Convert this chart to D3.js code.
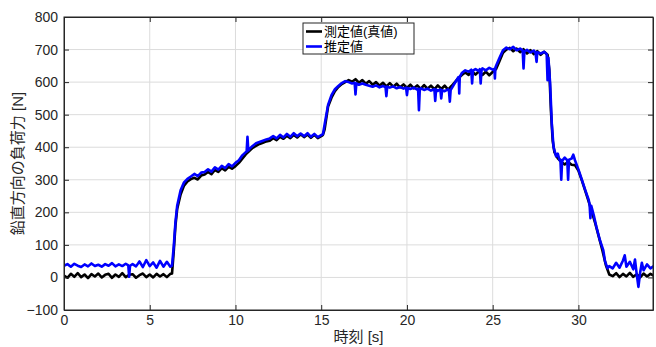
<!DOCTYPE html>
<html>
<head>
  <meta charset="utf-8">
  <title>鉛直方向の負荷力</title>
  <style>
    body { margin: 0; background: #fff; }
    .axis text { font-family: "Liberation Sans", "Noto Sans CJK JP", sans-serif; font-size: 14px; fill: #262626; }
    .axis path, .axis line { stroke: #262626; }
    .grid line { stroke: #dcdcdc; stroke-width: 1; }
  </style>
</head>
<body>
  <div id="plot"></div>

  <script src="https://cdn.jsdelivr.net/npm/d3@7/dist/d3.min.js"></script>
  <script>
    // 時刻 [s], 力 [N]
    const measured = [
      [0,6],[0.2,-1],[0.4,11],[0.6,2],[0.8,13],[1,1],[1.2,9],[1.4,-2],[1.6,10],[1.8,3],
      [2,12],[2.2,0],[2.4,8],[2.6,11],[2.8,-1],[3,9],[3.2,2],[3.4,13],[3.6,1],[3.8,8],
      [4,10],[4.2,-1],[4.4,7],[4.6,12],[4.8,1],[5,9],[5.2,0],[5.4,11],[5.6,3],[5.8,10],
      [6,1],[6.2,11],[6.3,12],[6.4,80],[6.5,160],[6.6,210],[6.8,255],[7,282],[7.2,295],[7.4,302],[7.6,306],[7.8,301],
      [8,313],[8.2,316],[8.4,324],[8.6,317],[8.8,330],[9,324],[9.2,336],[9.4,329],[9.6,340],[9.8,334],
      [10,342],[10.2,352],[10.4,365],[10.6,378],[10.8,388],[11,398],[11.2,404],[11.4,410],[11.6,414],[11.8,418],
      [12,420],[12.2,428],[12.4,422],[12.6,432],[12.8,426],[13,435],[13.2,428],[13.4,438],[13.6,430],[13.8,440],
      [14,431],[14.2,439],[14.4,429],[14.6,438],[14.8,428],[15,434],[15.1,438],[15.2,455],[15.4,525],[15.6,552],[15.8,572],
      [16,585],[16.2,594],[16.4,600],[16.6,606],[16.8,601],[17,609],[17.2,598],[17.4,606],[17.6,595],[17.8,603],
      [18,592],[18.2,600],[18.4,589],[18.6,598],[18.8,587],[19,597],[19.2,586],[19.4,595],[19.6,584],[19.8,593],
      [20,582],[20.2,592],[20.4,581],[20.6,590],[20.8,579],[21,591],[21.2,580],[21.4,589],[21.6,578],[21.8,590],
      [22,579],[22.2,589],[22.4,577],[22.6,588],[22.8,600],[23,612],[23.2,622],[23.4,630],[23.6,622],[23.8,633],
      [24,623],[24.2,634],[24.4,622],[24.6,632],[24.8,621],[25,631],[25.2,640],[25.4,665],[25.6,690],[25.8,700],
      [26,705],[26.2,695],[26.4,703],[26.6,692],[26.8,701],[27,688],[27.2,698],[27.4,686],[27.6,695],[27.8,684],
      [28,693],[28.2,684],[28.3,640],[28.4,510],[28.5,420],[28.6,385],[28.8,366],[29,355],[29.2,347],[29.4,355],[29.6,346],[29.8,345],
      [30,328],[30.2,298],[30.4,266],[30.6,233],[30.8,198],[31,163],[31.2,123],[31.4,83],[31.6,38],[31.8,9],
      [32,4],[32.2,13],[32.4,1],[32.6,11],[32.8,3],[33,14],[33.2,2],[33.4,10],[33.6,0],[33.8,12],[34,3],[34.2,11],[34.4,5]
    ];

    const estimated = [
      [0,36],[0.2,41],[0.4,33],[0.6,42],[0.8,36],[1,32],[1.2,40],[1.4,34],[1.6,43],[1.8,35],
      [2,39],[2.2,33],[2.4,41],[2.6,36],[2.8,44],[3,34],[3.2,40],[3.4,35],[3.6,42],[3.75,37],[3.8,2],[3.85,36],
      [4,41],[4.2,34],[4.4,49],[4.6,32],[4.8,53],[5,35],[5.2,46],[5.4,30],[5.6,51],[5.8,33],[6,48],[6.2,33],[6.3,36],
      [6.4,95],[6.5,170],[6.6,220],[6.8,268],[7,292],[7.2,303],[7.4,310],[7.6,318],[7.8,311],
      [8,322],[8.2,324],[8.4,332],[8.6,325],[8.8,338],[9,331],[9.2,343],[9.4,336],[9.6,348],[9.8,341],
      [10,352],[10.2,360],[10.4,375],[10.6,385],[10.65,386],[10.7,432],[10.75,390],[10.8,394],[11,404],[11.2,412],[11.4,416],[11.6,420],[11.8,424],
      [12,427],[12.2,434],[12.4,427],[12.6,438],[12.8,430],[13,441],[13.2,432],[13.4,443],[13.6,434],[13.8,442],
      [14,434],[14.2,443],[14.4,432],[14.6,441],[14.8,431],[15,437],[15.1,440],[15.2,470],[15.4,530],[15.6,560],[15.8,578],
      [16,588],[16.2,597],[16.4,603],[16.6,600],[16.8,596],[16.95,598],[17,562],[17.05,596],[17.2,592],[17.4,596],[17.6,592],[17.8,589],
      [18,586],[18.2,590],[18.4,584],[18.6,588],[18.75,585],[18.8,557],[18.85,586],[19,583],[19.2,587],[19.4,581],[19.6,585],[19.8,580],
      [19.95,583],[20,560],[20.05,582],[20.2,579],[20.4,583],[20.6,577],[20.65,580],[20.7,514],[20.75,578],[20.8,581],[21,576],[21.2,580],[21.4,574],
      [21.6,578],[21.65,542],[21.7,577],[21.8,573],[21.95,578],[22,550],[22.05,575],[22.2,572],[22.4,578],[22.45,574],[22.5,540],[22.55,576],[22.6,580],
      [22.8,598],[23,615],[23.02,612],[23.05,565],[23.08,616],[23.2,628],[23.4,636],[23.6,632],[23.75,638],[23.8,596],[23.85,635],
      [24,640],[24.2,634],[24.25,640],[24.3,596],[24.35,636],[24.4,642],[24.6,636],[24.8,644],[25,638],[25.1,641],[25.13,611],[25.16,645],
      [25.2,650],[25.4,675],[25.6,698],[25.8,706],
      [26,701],[26.2,708],[26.4,698],[26.6,703],[26.75,697],[26.8,642],[26.85,694],[27,699],[27.2,691],[27.4,697],[27.5,689],[27.56,662],[27.6,692],[27.8,688],
      [28,693],[28.15,686],[28.2,606],[28.25,675],[28.35,596],[28.45,470],[28.55,400],[28.7,372],[28.8,380],[28.9,360],[28.95,362],[29,300],[29.05,358],
      [29.2,368],[29.35,360],[29.4,300],[29.45,362],[29.6,365],[29.7,377],[29.8,360],
      [30,332],[30.2,300],[30.4,268],[30.6,238],[30.65,225],[30.7,182],[30.75,220],[30.9,190],[31.05,155],[31.25,115],[31.45,84],[31.55,50],[31.7,28],[31.8,35],
      [32,28],[32.2,45],[32.4,30],[32.6,52],[32.7,68],[32.8,33],[33,48],[33.2,25],[33.3,55],[33.4,10],[33.5,-29],[33.6,15],[33.7,45],[33.8,22],[34,40],[34.2,28],[34.4,35]
    ];

    const xTicks = [0, 5, 10, 15, 20, 25, 30];
    const yTicks = [-100, 0, 100, 200, 300, 400, 500, 600, 700, 800];
    const xDomain = [0, 34.35];
    const yDomain = [-100, 800];
    const seriesNames = ['測定値(真値)', '推定値'];
    const seriesColors = ['#000000', '#0000ff'];

    const svgWidth = 656, svgHeight = 347;
    const margin = {top: 17, right: 3, bottom: 37, left: 64};
    const width = svgWidth - margin.left - margin.right;
    const height = svgHeight - margin.top - margin.bottom;
    const labelFont = '"Liberation Sans", "Noto Sans CJK JP", sans-serif';

    const svg = d3.select('#plot').append('svg')
      .attr('width', svgWidth)
      .attr('height', svgHeight);

    const g = svg.append('g')
      .attr('transform', `translate(${margin.left},${margin.top})`);

    const x = d3.scaleLinear().domain(xDomain).range([0, width]);
    const y = d3.scaleLinear().domain(yDomain).range([height, 0]);

    // grid
    g.append('g').attr('class', 'grid')
      .selectAll('line.v').data(xTicks.filter(d => d > 0)).enter().append('line')
        .attr('x1', d => x(d)).attr('x2', d => x(d))
        .attr('y1', 0).attr('y2', height);
    g.append('g').attr('class', 'grid')
      .selectAll('line.h').data(yTicks.filter(d => d > yDomain[0] && d < yDomain[1])).enter().append('line')
        .attr('x1', 0).attr('x2', width)
        .attr('y1', d => y(d)).attr('y2', d => y(d));

    // data
    g.append('clipPath').attr('id', 'clip')
      .append('rect').attr('width', width).attr('height', height);

    const line = d3.line().x(d => x(d[0])).y(d => y(d[1]));
    const plotArea = g.append('g').attr('clip-path', 'url(#clip)');
    [measured, estimated].forEach((s, i) => {
      plotArea.append('path')
        .datum(s)
        .attr('d', line)
        .attr('fill', 'none')
        .attr('stroke', seriesColors[i])
        .attr('stroke-width', 2.6)
        .attr('stroke-linejoin', 'round');
    });

    // axes (ticks inside)
    const fmt = d => d < 0 ? '\u2212' + Math.abs(d) : d;
    g.append('g').attr('class', 'axis')
      .attr('transform', `translate(0,${height})`)
      .call(d3.axisBottom(x).tickValues(xTicks).tickSizeInner(-5).tickSizeOuter(0).tickPadding(5));
    g.append('g').attr('class', 'axis')
      .call(d3.axisLeft(y).tickValues(yTicks).tickFormat(fmt).tickSizeInner(-5).tickSizeOuter(0).tickPadding(6));
    g.append('g').attr('class', 'axis')
      .call(d3.axisTop(x).tickValues(xTicks).tickFormat('').tickSizeInner(-5).tickSizeOuter(0));
    g.append('g').attr('class', 'axis')
      .attr('transform', `translate(${width},0)`)
      .call(d3.axisRight(y).tickValues(yTicks).tickFormat('').tickSizeInner(-5).tickSizeOuter(0));

    g.append('rect')
      .attr('width', width).attr('height', height)
      .attr('fill', 'none').attr('stroke', '#262626');

    // axis labels
    svg.append('text')
      .attr('x', margin.left + width / 2).attr('y', svgHeight - 5)
      .attr('text-anchor', 'middle')
      .style('font-family', labelFont).style('font-size', '15px').style('fill', '#262626')
      .text('時刻 [s]');
    svg.append('text')
      .attr('transform', `translate(23,${margin.top + height / 2}) rotate(-90)`)
      .attr('text-anchor', 'middle')
      .style('font-family', labelFont).style('font-size', '15px').style('fill', '#262626')
      .text('鉛直方向の負荷力 [N]');

    // legend
    const legend = svg.append('g').attr('transform', 'translate(303,23)');
    legend.append('rect')
      .attr('width', 111).attr('height', 31)
      .attr('fill', '#fff').attr('stroke', '#262626');
    seriesNames.forEach((name, i) => {
      const row = legend.append('g').attr('transform', `translate(0,${8.5 + i * 15})`);
      row.append('line')
        .attr('x1', 3).attr('x2', 19)
        .attr('stroke', seriesColors[i]).attr('stroke-width', 2.6);
      row.append('text')
        .attr('x', 21).attr('dy', '0.35em')
        .style('font-family', labelFont).style('font-size', '13px').style('fill', '#000')
        .text(name);
    });
  </script>
</body>
</html>
